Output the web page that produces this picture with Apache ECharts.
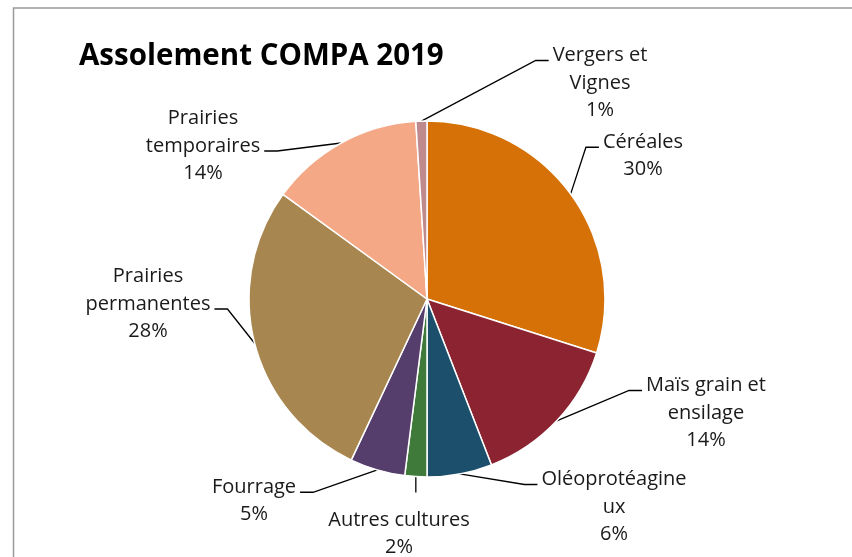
<!DOCTYPE html>
<html>
<head>
<meta charset="utf-8">
<script src="https://cdn.jsdelivr.net/npm/echarts@6/dist/echarts.min.js"></script>
<style>
  html, body { margin: 0; padding: 0; background: #fff; }
  #chart { width: 852px; height: 557px; }
</style>
</head>
<body>
<div id="chart"></div>
<script>
// slices, clockwise from 12 o'clock
const categories = [
  "Céréales",
  "Maïs grain et\nensilage",
  "Oléoprotéagine\nux",
  "Autres cultures",
  "Fourrage",
  "Prairies\npermanentes",
  "Prairies\ntemporaires",
  "Vergers et\nVignes"
];
const shares = [29.9, 14.2, 5.9, 2.0, 5.0, 28.0, 14.0, 1.0];
const colors = ["#D57107", "#8B2331", "#1B4F6B", "#3F7A3A", "#553E6B", "#A8864F", "#F4A886", "#BE8A8D"];

// where each label block sits and which side / line the leader reaches
const labelPos = [
  { x: 643, y: 156, side: "left", line: 0 },
  { x: 706, y: 413, side: "left", line: 0 },
  { x: 614, y: 507, side: "left", line: 0 },
  { x: 399, y: 534, side: "top", line: 0 },
  { x: 254, y: 501, side: "right", line: 0 },
  { x: 148, y: 304, side: "right", line: 1 },
  { x: 203, y: 146, side: "right", line: 1 },
  { x: 600, y: 83, side: "left", line: 0 }
];
const LINE_H = 27.5;

const chart = echarts.init(document.getElementById("chart"));

function leader(p) {
  const pos = labelPos[p.dataIndex];
  const start = p.labelLinePoints[0];
  const w = p.labelRect.width;
  const h = p.labelRect.height;
  const n = categories[p.dataIndex].split("\n").length + 1;
  const res = { x: pos.x, y: pos.y, align: "center", verticalAlign: "middle" };
  if (pos.side === "top") {
    const top = pos.y - h / 2 - 14;
    res.labelLinePoints = [start, [start[0], top]];
    return res;
  }
  const rowY = pos.y + (pos.line - (n - 1) / 2) * LINE_H + 5;
  const gap = 4, seg = 13;
  let endX, midX;
  if (pos.side === "left") {
    endX = pos.x - w / 2 - gap;
    midX = endX - seg;
  } else {
    endX = pos.x + w / 2 + gap;
    midX = endX + seg;
  }
  res.labelLinePoints = [start, [midX, rowY], [endX, rowY]];
  return res;
}

chart.setOption({
  animation: false,
  title: {
    text: "Assolement COMPA 2019",
    left: 74,
    top: 36,
    textStyle: {
      fontFamily: "Open Sans",
      fontSize: 29.5,
      fontWeight: "bold",
      color: "#000",
      lineHeight: 32
    }
  },
  graphic: [{
    type: "rect",
    shape: { x: 13.5, y: 8, width: 900, height: 600 },
    style: { fill: "none", stroke: "#9a9a9a", lineWidth: 1.5 },
    silent: true
  }],
  series: [{
    type: "pie",
    center: [427, 299],
    radius: 178,
    startAngle: 90,
    clockwise: true,
    avoidLabelOverlap: false,
    itemStyle: { borderColor: "#fff", borderWidth: 1.5 },
    label: {
      show: true,
      position: "outside",
      fontFamily: "Open Sans",
      fontSize: 20,
      lineHeight: LINE_H,
      color: "#1a1a1a",
      formatter: function (p) {
        return p.name + "\n" + Math.round(p.percent) + "%";
      }
    },
    labelLine: {
      show: true,
      length: 10,
      length2: 10,
      minTurnAngle: 0,
      lineStyle: { color: "#000", width: 1.3 }
    },
    labelLayout: leader,
    data: categories.map(function (c, i) {
      return { name: c, value: shares[i], itemStyle: { color: colors[i] } };
    })
  }]
});
</script>
</body>
</html>
